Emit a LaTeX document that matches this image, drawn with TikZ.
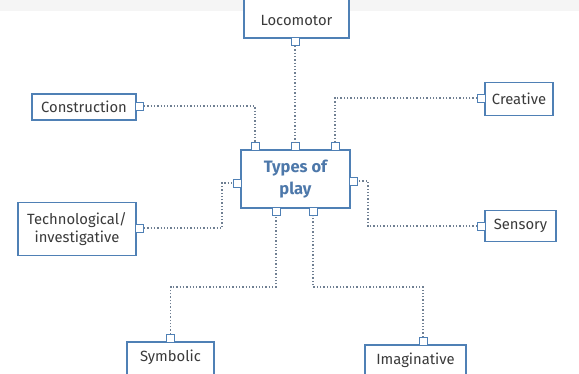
\documentclass[tikz,border=0pt]{standalone}
\usepackage{fontspec}
\setmainfont{Fira Sans}
\begin{document}
\begin{tikzpicture}[x=1pt,y=-1pt,
  leaf/.style={draw=bluebox, line width=1.1pt, fill=white, text=textgrey,
    font=\fontsize{14.8}{17.5}\selectfont, inner sep=0pt, align=center},
  leaftext/.style={text=textgrey, font=\fontsize{14.8}{17.5}\selectfont},
  hub/.style={draw=bluebox, line width=1.3pt, fill=white, text=bluetext,
    font=\bfseries\fontsize{16.5}{22}\selectfont, inner sep=0pt, align=center},
  port/.style={draw=bluebox, line width=1pt, fill=white, minimum size=8pt, inner sep=0pt},
  link/.style={draw=linkgrey, line width=1.3pt, dotted}
]
\definecolor{bluebox}{HTML}{4F80B5}
\definecolor{bluetext}{HTML}{4D78AA}
\definecolor{textgrey}{HTML}{3A3A3A}
\definecolor{linkgrey}{HTML}{6F7F92}
\useasboundingbox (0,0) rectangle (579,373);
\clip (0,0) rectangle (579,373);
\fill[white] (0,0) rectangle (579,373);
\fill[black!4] (0,0) rectangle (579,11);

% boxes
\node[hub, minimum width=109pt, minimum height=58pt] (hub) at (295.5,179) {Types of\\play};
\node[leaf, minimum width=105pt, minimum height=48pt] (loco) at (296.5,14) {};
\node[leaftext] (locot) at (296.5,20) {Locomotor};
\node[leaf, minimum width=104pt, minimum height=26pt] (cons) at (84,107) {Construction};
\node[leaf, minimum width=68pt, minimum height=33pt] (crea) at (519,99) {Creative};
\node[leaf, minimum width=118pt, minimum height=53pt] (tech) at (77,229) {Technological/\\investigative};
\node[leaf, minimum width=71pt, minimum height=31pt] (sens) at (520.5,226) {Sensory};
\node[leaf, minimum width=87pt, minimum height=40pt] (symb) at (170.5,362) {};
\node[leaftext] (symbt) at (170.5,357) {Symbolic};
\node[leaf, minimum width=101pt, minimum height=40pt] (imag) at (415.5,365) {};
\node[leaftext] (imagt) at (415.5,360) {Imaginative};

% ports
\node[port] (pLoco) at (295,41.5) {};
\node[port] (pCons) at (139.5,106) {};
\node[port] (pCrea) at (481.5,98) {};
\node[port] (pTech) at (139.5,228) {};
\node[port] (pSens) at (481.5,226) {};
\node[port] (pSymb) at (170.5,338.5) {};
\node[port] (pImag) at (423,341.5) {};
\node[port] (hT1) at (255,146.5) {};
\node[port] (hT2) at (295,146.5) {};
\node[port] (hT3) at (335,146.5) {};
\node[port] (hL) at (237.5,183) {};
\node[port] (hR) at (353.5,181) {};
\node[port] (hB1) at (276,211.5) {};
\node[port] (hB2) at (313,211.5) {};

% connectors
\draw[link] (pLoco.south) -- (hT2.north);
\draw[link] (pCons.east) -| (hT1.north);
\draw[link] (pCrea.west) -| (hT3.north);
\coordinate (cT) at (222,228);
\draw[link] (pTech.east) -- (cT) |- (hL.west);
\coordinate (cS) at (368,226);
\draw[link] (pSens.west) -- (cS) |- (hR.east);
\coordinate (cY) at (170.5,287);
\draw[link] (pSymb.north) -- (cY) -| (hB1.south);
\coordinate (cI) at (423,287);
\draw[link] (pImag.north) -- (cI) -| (hB2.south);
\end{tikzpicture}
\end{document}
